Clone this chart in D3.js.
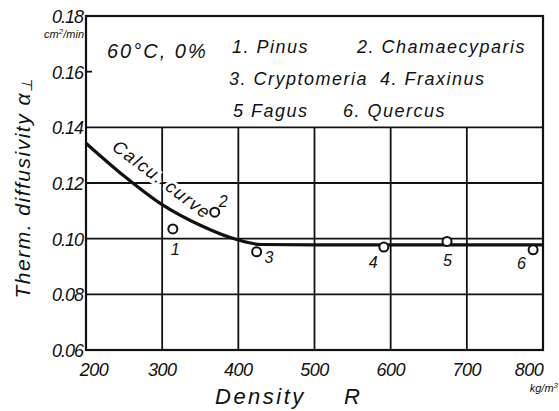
<!DOCTYPE html>
<html>
<head>
<meta charset="utf-8">
<script src="https://cdn.jsdelivr.net/npm/d3@7"></script>
<style>
  body { margin: 0; background: #fff; }
  text { font-family: "Liberation Sans", sans-serif; font-style: italic; fill: #111; }
</style>
</head>
<body>
<svg id="chart"></svg>
<script>
const width = 559;
const height = 411;

// data
const xTicks = [200, 300, 400, 500, 600, 700, 800];
const yTicks = [0.06, 0.08, 0.10, 0.12, 0.14, 0.16, 0.18];
const yTickLabels = ['0.06', '0.08', '0.10', '0.12', '0.14', '0.16', '0.18'];

const curveDensity = [200, 250, 300, 350, 400, 430, 500, 600, 700, 800];
const curveAlpha = [0.1343, 0.1225, 0.1122, 0.1048, 0.0995, 0.0979, 0.0978, 0.0978, 0.0978, 0.0978];

const pointLabels = ['1', '2', '3', '4', '5', '6'];
const pointDensity = [314, 369, 424, 591, 674, 787];
const pointAlpha = [0.1035, 0.1095, 0.0953, 0.0970, 0.0990, 0.0960];

const legendLines = [
    ['1. Pinus', '2. Chamaecyparis'],
    ['3. Cryptomeria', '4. Fraxinus'],
    ['5  Fagus', '6. Quercus']
];

const svg = d3.select('#chart')
    .attr('width', width)
    .attr('height', height);

const x = d3.scaleLinear().domain([200, 800]).range([86, 543]);
const y = d3.scaleLinear().domain([0.06, 0.18]).range([350, 16]);

// grid, lower box only
const grid = svg.append('g').attr('stroke', '#111').attr('stroke-width', 1.8);
grid.selectAll('.vg')
    .data(xTicks.slice(1, -1))
    .enter().append('line')
    .attr('x1', d => x(d)).attr('x2', d => x(d))
    .attr('y1', y(0.14)).attr('y2', y(0.06));
grid.selectAll('.hg')
    .data([0.08, 0.10, 0.12, 0.14])
    .enter().append('line')
    .attr('x1', x(200)).attr('x2', x(800))
    .attr('y1', d => y(d)).attr('y2', d => y(d));

// short tick at 0.16
grid.append('line')
    .attr('x1', x(200)).attr('x2', x(200) + 6)
    .attr('y1', y(0.16)).attr('y2', y(0.16));

// frame
svg.append('rect')
    .attr('x', x(200)).attr('y', y(0.18))
    .attr('width', x(800) - x(200)).attr('height', y(0.06) - y(0.18))
    .attr('fill', 'none').attr('stroke', '#111').attr('stroke-width', 2.2);

// curve label with a white halo, like the gap in the grid
svg.append('text')
    .attr('transform', 'translate(111,149) rotate(37)')
    .attr('font-size', 18)
    .attr('letter-spacing', 1.5)
    .attr('stroke', '#fff').attr('stroke-width', 6)
    .attr('paint-order', 'stroke')
    .text('Calcu. curve');

// calculated curve
const curve = d3.line()
    .x((d, i) => x(curveDensity[i]))
    .y(d => y(d))
    .curve(d3.curveMonotoneX);
svg.append('path')
    .datum(curveAlpha)
    .attr('d', curve)
    .attr('fill', 'none')
    .attr('stroke', '#111')
    .attr('stroke-width', 3.2);

// measured points
const labelDx = [-2, 4, 8, -15, -4, -16];
const labelDy = [26, -5, 11, 21, 25, 19];
svg.selectAll('.pt')
    .data(pointLabels)
    .enter().append('circle')
    .attr('cx', (d, i) => x(pointDensity[i]))
    .attr('cy', (d, i) => y(pointAlpha[i]))
    .attr('r', 4.5)
    .attr('fill', '#fff')
    .attr('stroke', '#111')
    .attr('stroke-width', 2);
svg.selectAll('.pl')
    .data(pointLabels)
    .enter().append('text')
    .attr('x', (d, i) => x(pointDensity[i]) + labelDx[i])
    .attr('y', (d, i) => y(pointAlpha[i]) + labelDy[i])
    .attr('font-size', 16)
    .text(d => d);

// y tick labels
svg.selectAll('.yl')
    .data(yTicks)
    .enter().append('text')
    .attr('x', 83)
    .attr('y', d => y(d) + 7)
    .attr('text-anchor', 'end')
    .attr('font-size', 18)
    .attr('letter-spacing', -1)
    .text((d, i) => yTickLabels[i]);

svg.append('text')
    .attr('x', 84).attr('y', 38)
    .attr('text-anchor', 'end')
    .attr('font-size', 11)
    .html('cm<tspan dy="-4" font-size="8">2</tspan><tspan dy="4">/min</tspan>');

// x tick labels
const xLabelDx = [8, 0, 0, 0, 0, 0, -14];
svg.selectAll('.xl')
    .data(xTicks)
    .enter().append('text')
    .attr('x', (d, i) => x(d) + xLabelDx[i])
    .attr('y', 376)
    .attr('text-anchor', 'middle')
    .attr('font-size', 18)
    .attr('letter-spacing', -0.5)
    .text(d => d);

// axis titles
svg.append('text')
    .attr('x', 215).attr('y', 404)
    .attr('font-size', 22)
    .attr('letter-spacing', 2.5)
    .text('Density');
svg.append('text')
    .attr('x', 344).attr('y', 404)
    .attr('font-size', 22)
    .text('R');

svg.append('text')
    .attr('x', 558).attr('y', 392)
    .attr('text-anchor', 'end')
    .attr('font-size', 11)
    .html('kg/m<tspan dy="-4" font-size="8">3</tspan>');

svg.append('text')
    .attr('transform', 'translate(30,188) rotate(-90)')
    .attr('text-anchor', 'middle')
    .attr('font-size', 21)
    .attr('letter-spacing', 1.5)
    .html('Therm. diffusivity α<tspan font-size="15" dy="2">⊥</tspan>');

// legend block
svg.append('text')
    .attr('x', 107).attr('y', 58)
    .attr('font-size', 20)
    .attr('letter-spacing', 2)
    .text('60°C, 0%');

const legendX = [[232, 357], [229, 380], [233, 343]];
const legendY = [53, 85, 117];
legendLines.forEach((row, r) => {
    row.forEach((txt, c) => {
        svg.append('text')
            .attr('x', legendX[r][c])
            .attr('y', legendY[r])
            .attr('font-size', 18)
            .attr('letter-spacing', 1.5)
            .text(txt);
    });
});
</script>
</body>
</html>
